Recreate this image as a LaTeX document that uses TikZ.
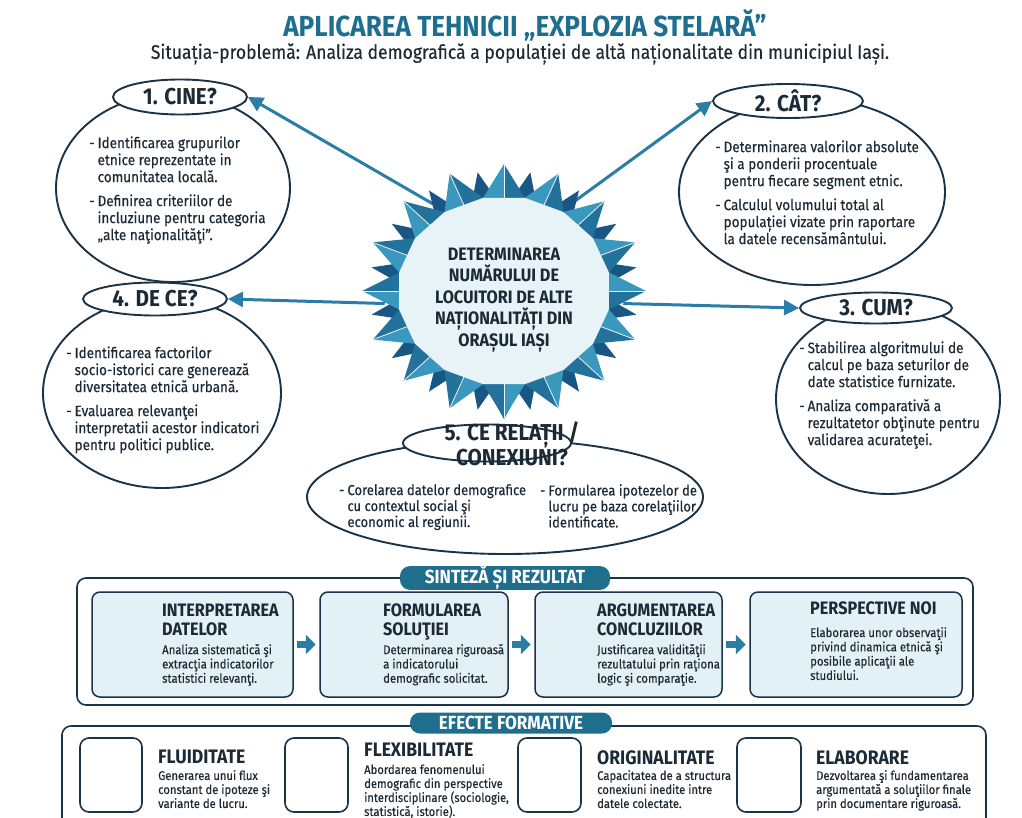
\documentclass[tikz,border=0pt]{standalone}
\usepackage{fontspec}
\setmainfont{Fira Sans}[FakeStretch=0.9]
\newfontfamily\bodyfont{Fira Sans}[FakeStretch=0.9,FakeBold=0.3]
\usetikzlibrary{arrows.meta,shapes.geometric,calc}
\definecolor{ttl}{HTML}{1E6F8F}
\definecolor{dk}{HTML}{1B3347}
\definecolor{body}{HTML}{1C2A36}
\definecolor{arr}{HTML}{2A7DA6}
\definecolor{boxfill}{HTML}{E3F0F5}
\definecolor{tabc}{HTML}{1F6E8E}
\definecolor{sA}{HTML}{3A98BF}
\definecolor{sB}{HTML}{23729C}
\definecolor{sC}{HTML}{185683}
\definecolor{sIn}{HTML}{E8F3F7}
\newcommand\blt[1]{\begin{tabular}[t]{@{}l@{\hspace{3pt}}l@{}}#1\end{tabular}}
\begin{document}
\begin{tikzpicture}[x=1pt,y=-1pt,
  bigell/.style={ellipse,draw=dk,line width=1.9pt,inner sep=0pt},
  headell/.style={ellipse,draw=dk,line width=1.9pt,fill=white,inner sep=0pt,text=body,font=\fontsize{23}{24}\selectfont\bfseries},
  txt/.style={anchor=north west,inner sep=0pt,text=body,font=\bodyfont\fontsize{15}{17}\selectfont},
  conn/.style={draw=arr,line width=3pt,-{Triangle[length=15pt,width=15pt]}},
  sbox/.style={draw=dk,line width=1.5pt,fill=boxfill,rounded corners=8pt,inner sep=0pt},
  stitle/.style={anchor=north west,inner sep=0pt,align=left,text=body,font=\fontsize{18}{19}\selectfont\bfseries},
  sdesc/.style={anchor=north west,inner sep=0pt,align=left,text=body,font=\bodyfont\fontsize{12.6}{14.3}\selectfont},
  barrow/.style={draw=arr,line width=6.5pt,-{Triangle[length=10pt,width=19pt]},shorten <=3.5pt,shorten >=3.5pt},
  tabnode/.style={fill=tabc,rounded corners=10pt,text=white,inner sep=0pt,font=\fontsize{19}{20}\selectfont\bfseries},
  ebox/.style={draw=dk,line width=1.6pt,rounded corners=9pt,inner sep=0pt},
  etitle/.style={anchor=north west,inner sep=0pt,align=left,text=body,font=\fontsize{19.5}{20}\selectfont\bfseries},
  edesc/.style={anchor=north west,inner sep=0pt,align=left,text=body,font=\bodyfont\fontsize{12.5}{14}\selectfont}]
\path[use as bounding box] (0,0) rectangle (1022,818);
\clip (0,0) rectangle (1022,818);
\fill[white] (0,0) rectangle (1022,818);

% title
\node[text=ttl,font=\fontsize{29}{30}\selectfont\bfseries,inner sep=0pt] (title) at (525,25) {APLICAREA TEHNICII „EXPLOZIA STELARĂ”};
\node[text=body,font=\bodyfont\fontsize{19.5}{21}\selectfont,inner sep=0pt] (subtitle) at (520,54) {Situația-problemă: Analiza demografică a populației de altă naționalitate din municipiul Iași.};

% big ellipses
\node[bigell,minimum width=234pt,minimum height=188pt] (cinebig) at (173,188) {};
\node[bigell,minimum width=266pt,minimum height=186pt] (catbig) at (812,192) {};
\node[bigell,minimum width=238pt,minimum height=190pt] (decebig) at (162,393) {};
\node[bigell,minimum width=224pt,minimum height=190pt] (cumbig) at (888,399) {};
\node[bigell,minimum width=396pt,minimum height=114pt] (relbig) at (505,497) {};

% heading ellipses
\node[headell,minimum width=134pt,minimum height=35pt] (cine) at (180,97) {1. CINE?};
\node[headell,minimum width=150pt,minimum height=34pt] (cat) at (788,101) {2. CÂT?};
\node[headell,minimum width=144pt,minimum height=33pt] (dece) at (155,299) {4. DE CE?};
\node[headell,minimum width=152pt,minimum height=31pt] (cum) at (876,308) {3. CUM?};
\node[headell,minimum width=168pt,minimum height=37pt] (rel) at (487,443) {};
\node[inner sep=0pt,align=center,text=body,font=\fontsize{23}{22.5}\selectfont\bfseries] (relhead) at (512,444) {5. CE RELAȚII /\\CONEXIUNI?};

% ellipse texts
\node[txt] (cinetxt) at (89,136) {\blt{-& Identificarea grupurilor\\ & etnice reprezentate in\\ & comunitatea locală.\\[7pt] -& Definirea criteriilor de\\ & incluziune pentru categoria\\ & „alte naţionalităţi”.}};
\node[txt] (cattxt) at (715,140) {\blt{-& Determinarea valorilor absolute\\ & şi a ponderii procentuale\\ & pentru fiecare segment etnic.\\[7pt] -& Calculul volumului total al\\ & populației vizate prin raportare\\ & la datele recensământului.}};
\node[txt] (decetxt) at (66,346) {\blt{-& Identificarea factorilor\\ & socio-istorici care generează\\ & diversitatea etnică urbană.\\[7pt] -& Evaluarea relevanţei\\ & interpretatii acestor indicatori\\ & pentru politici publice.}};
\node[txt] (cumtxt) at (799,341) {\blt{-& Stabilirea algoritmului de\\ & calcul pe baza seturilor de\\ & date statistice furnizate.\\[7pt] -& Analiza comparativă a\\ & rezultatetor obţinute pentru\\ & validarea acurateţei.}};
\node[txt,font=\bodyfont\fontsize{14.5}{15.5}\selectfont] (reltxtA) at (339,484) {\blt{-& Corelarea datelor demografice\\ & cu contextul social şi\\ & economic al regiunii.}};
\node[txt,font=\bodyfont\fontsize{14.5}{15.5}\selectfont] (reltxtB) at (540,484) {\blt{-& Formularea ipotezelor de\\ & lucru pe baza corelaţiilor\\ & identificate.}};

% star anchor node
\node[ellipse,minimum width=240pt,minimum height=200pt,inner sep=0pt] (star) at (504,291) {};

% connectors
\draw[conn] (star.128) -- (cine.east);
\draw[conn] (star.53) -- (cat.west);
\draw[conn] (star.186) -- (dece.east);
\draw[conn] (star.-6) -- (cum.west);
\draw[conn,shorten >=4pt] (star.center) -- (star.center |- rel.north);

% star graphic
\def\cx{504}\def\cy{291}
\def\Rx{142}\def\Ry{127}
\def\Bx{135}\def\By{121}
\def\rx{107}\def\ry{95}
\foreach \k in {0,...,15}{
  \pgfmathsetmacro\a{90+22.5*\k}
  \fill[sC] ({\cx+\Bx*cos(\a+11.25)},{\cy-\By*sin(\a+11.25)})
     -- ({\cx+0.85*\rx*cos(\a)},{\cy-0.85*\ry*sin(\a)})
     -- ({\cx+0.85*\rx*cos(\a+22.5)},{\cy-0.85*\ry*sin(\a+22.5)}) -- cycle;
}
\foreach \k in {0,...,15}{
  \pgfmathsetmacro\a{90+22.5*\k}
  \fill[sA] ({\cx+\rx*cos(\a+11.25)},{\cy-\ry*sin(\a+11.25)})
     -- ({\cx+\Rx*cos(\a)},{\cy-\Ry*sin(\a)})
     -- ({\cx+0.97*\rx*cos(\a)},{\cy-0.97*\ry*sin(\a)}) -- cycle;
  \fill[sB] ({\cx+\rx*cos(\a-11.25)},{\cy-\ry*sin(\a-11.25)})
     -- ({\cx+\Rx*cos(\a)},{\cy-\Ry*sin(\a)})
     -- ({\cx+0.97*\rx*cos(\a)},{\cy-0.97*\ry*sin(\a)}) -- cycle;
  \draw[sIn,line width=0.8pt] ({\cx+0.97*\rx*cos(\a)},{\cy-0.97*\ry*sin(\a)}) -- ({\cx+\Rx*cos(\a)},{\cy-\Ry*sin(\a)});
}
\fill[sIn] ({\cx+\rx*cos(101.25)},{\cy-\ry*sin(101.25)})
  \foreach \k in {1,...,15}{ -- ({\cx+\rx*cos(101.25+22.5*\k)},{\cy-\ry*sin(101.25+22.5*\k)}) } -- cycle;
\node[inner sep=0pt,align=center,text=body,font=\fontsize{18}{21.5}\selectfont\bfseries] (startext) at (504,300) {DETERMINAREA\\NUMĂRULUI DE\\LOCUITORI DE ALTE\\NAȚIONALITĂȚI DIN\\ORAȘUL IAȘI};

% synthesis section
\draw[dk,line width=1.6pt,rounded corners=9pt] (77,578) rectangle (973,705);
\node[tabnode,minimum width=210pt,minimum height=22pt] (sintab) at (505,578) {SINTEZĂ ȘI REZULTAT};
\node[sbox,minimum width=201pt,minimum height=105pt] (s1) at (192.5,644.5) {};
\node[sbox,minimum width=188pt,minimum height=105pt] (s2) at (414,644.5) {};
\node[sbox,minimum width=187pt,minimum height=105pt] (s3) at (628.5,644.5) {};
\node[sbox,minimum width=212pt,minimum height=105pt] (s4) at (856,644.5) {};
\draw[barrow] (s1.east) -- (s2.west);
\draw[barrow] (s2.east) -- (s3.west);
\draw[barrow] (s3.east) -- (s4.west);
\node[stitle] (s1t) at (162,604) {INTERPRETAREA\\DATELOR};
\node[sdesc] (s1d) at (162,644) {Analiza sistematică şi\\extracţia indicatorilor\\statistici relevanţi.};
\node[stitle] (s2t) at (383,604) {FORMULAREA\\SOLUŢIEI};
\node[sdesc] (s2d) at (383,644) {Determinarea riguroasă\\a indicatorului\\demografic solicitat.};
\node[stitle] (s3t) at (597,604) {ARGUMENTAREA\\CONCLUZIILOR};
\node[sdesc] (s3d) at (597,644) {Justificarea validităţii\\rezultatului prin raţiona\\logic şi comparaţie.};
\node[stitle] (s4t) at (810,602) {PERSPECTIVE NOI};
\node[sdesc] (s4d) at (810,627) {Elaborarea unor observaţii\\privind dinamica etnică şi\\posibile aplicaţii ale\\studiului.};

% effects section
\draw[dk,line width=1.6pt,rounded corners=9pt] (62,726) rectangle (986,860);
\node[tabnode,minimum width=202pt,minimum height=21pt] (eftab) at (511,723) {EFECTE FORMATIVE};
\node[ebox,minimum width=62pt,minimum height=74pt] (e1) at (111,775) {};
\node[ebox,minimum width=63pt,minimum height=74pt] (e2) at (316.5,775) {};
\node[ebox,minimum width=63pt,minimum height=74pt] (e3) at (549.5,775) {};
\node[ebox,minimum width=64pt,minimum height=74pt] (e4) at (769,775) {};
\node[etitle] (e1t) at (158,750) {FLUIDITATE};
\node[edesc] (e1d) at (158,770) {Generarea unui flux\\constant de ipoteze şi\\variante de lucru.};
\node[etitle] (e2t) at (364,743) {FLEXIBILITATE};
\node[edesc] (e2d) at (364,764) {Abordarea fenomenului\\demografic din perspective\\interdisciplinare (sociologie,\\statistică, istorie).};
\node[etitle] (e3t) at (597,750) {ORIGINALITATE};
\node[edesc] (e3d) at (597,770) {Capacitatea de a structura\\conexiuni inedite intre\\datele colectate.};
\node[etitle] (e4t) at (816,750) {ELABORARE};
\node[edesc] (e4d) at (816,770) {Dezvoltarea şi fundamentarea\\argumentată a soluţiilor finale\\prin documentare riguroasă.};
\end{tikzpicture}
\end{document}
